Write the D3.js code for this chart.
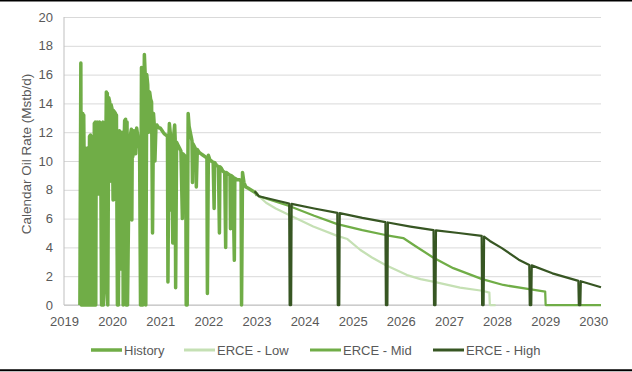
<!DOCTYPE html>
<html>
<head>
<meta charset="utf-8">
<script src="https://cdn.jsdelivr.net/npm/d3@7"></script>
<style>
body { margin: 0; background: #fff; }
svg { display: block; font-family: "Liberation Sans", Arial, sans-serif; }
.grid line { stroke: #d9d9d9; stroke-width: 1; }
.axis text { fill: #595959; font-size: 13px; }
.legend text { fill: #595959; font-size: 13px; }
.series { fill: none; stroke-linejoin: round; stroke-linecap: butt; }
</style>
</head>
<body>
<div id="chart"></div>
<script>
var yearTicks = [2019, 2020, 2021, 2022, 2023, 2024, 2025, 2026, 2027, 2028, 2029, 2030];
var rateTicks = [0, 2, 4, 6, 8, 10, 12, 14, 16, 18, 20];

var seriesNames = ["History", "ERCE - Low", "ERCE - Mid", "ERCE - High"];
var seriesColors = ["#70ad47", "#c5e0b4", "#70ad47", "#375623"];

// [annee decimale, debit Mstb/d]
var historyRate = [
  [2019.33, 0], [2019.35, 16.8], [2019.36, 0], [2019.37, 13.3], [2019.38, 0], [2019.39, 13.3], [2019.40, 0.3], [2019.41, 13.2],
  [2019.42, 9.5], [2019.43, 0], [2019.44, 10.9], [2019.45, 0], [2019.46, 10.7], [2019.47, 0], [2019.49, 10.9], [2019.50, 8.0],
  [2019.51, 0], [2019.53, 11.7], [2019.55, 11.8], [2019.56, 0], [2019.57, 11.6], [2019.58, 7.5], [2019.60, 11.7],
  [2019.61, 0], [2019.63, 12.6], [2019.65, 12.7], [2019.66, 0], [2019.67, 12.6], [2019.69, 12.7],
  [2019.71, 7.7], [2019.72, 12.5], [2019.74, 12.7], [2019.76, 12.6], [2019.78, 0], [2019.79, 12.6],
  [2019.81, 12.7], [2019.82, 0], [2019.84, 1.0], [2019.86, 8.2], [2019.88, 14.8], [2019.89, 9.0], [2019.90, 14.7],
  [2019.91, 0], [2019.93, 14.4], [2019.95, 14.1], [2019.96, 8.6], [2019.98, 13.9], [2020.00, 13.6],
  [2020.02, 7.3], [2020.03, 13.5], [2020.05, 13.4], [2020.07, 13.3], [2020.08, 7.3], [2020.09, 13.2],
  [2020.11, 0], [2020.13, 0], [2020.15, 12.1], [2020.17, 11.9], [2020.18, 7.3], [2020.19, 2.5],
  [2020.20, 12.0], [2020.22, 11.8], [2020.23, 0], [2020.25, 11.5], [2020.26, 12.8], [2020.28, 12.9],
  [2020.29, 0], [2020.31, 12.7], [2020.32, 0], [2020.34, 5.8], [2020.36, 9.0], [2020.38, 11.8],
  [2020.40, 12.2], [2020.41, 5.9], [2020.42, 12.0], [2020.43, 10.3], [2020.45, 12.1], [2020.47, 11.9],
  [2020.49, 10.5], [2020.51, 12.3], [2020.53, 11.8], [2020.55, 11.0], [2020.57, 11.4], [2020.59, 0],
  [2020.61, 16.5], [2020.63, 16.3], [2020.64, 0], [2020.66, 14.0], [2020.67, 17.4], [2020.69, 15.8],
  [2020.70, 0], [2020.72, 16.0], [2020.74, 15.3], [2020.76, 12.0], [2020.78, 14.8], [2020.80, 14.3],
  [2020.82, 14.1], [2020.84, 5.0], [2020.86, 13.3], [2020.88, 12.3], [2020.89, 10.0], [2020.91, 12.3],
  [2020.93, 12.5], [2020.95, 12.4], [2020.97, 12.3], [2021.00, 12.3], [2021.04, 12.1], [2021.08, 11.9],
  [2021.12, 11.8], [2021.15, 11.7], [2021.16, 1.6], [2021.18, 11.5], [2021.19, 12.6], [2021.21, 11.9],
  [2021.23, 6.6], [2021.24, 11.6], [2021.26, 4.3], [2021.27, 11.4], [2021.30, 12.5], [2021.31, 11.6],
  [2021.32, 1.2], [2021.34, 11.3], [2021.37, 11.1], [2021.40, 10.9], [2021.43, 10.7], [2021.46, 6.0],
  [2021.47, 10.5], [2021.50, 10.4], [2021.53, 10.3], [2021.54, 0], [2021.56, 0], [2021.58, 13.3],
  [2021.60, 12.4], [2021.63, 11.9], [2021.66, 11.4], [2021.67, 8.5], [2021.68, 11.2], [2021.71, 11.0],
  [2021.74, 10.8], [2021.75, 8.2], [2021.77, 10.8], [2021.81, 10.6], [2021.85, 10.5], [2021.89, 10.4],
  [2021.93, 10.3], [2021.97, 10.2], [2021.98, 0.8], [2022.00, 10.4], [2022.03, 10.1], [2022.06, 10.0],
  [2022.10, 9.9], [2022.12, 6.7], [2022.13, 9.9], [2022.17, 9.7], [2022.21, 9.6], [2022.23, 5.0],
  [2022.24, 9.6], [2022.27, 9.5], [2022.30, 9.3], [2022.34, 9.2], [2022.36, 4.0], [2022.37, 9.2],
  [2022.41, 9.1], [2022.45, 9.0], [2022.46, 5.3], [2022.47, 9.0], [2022.51, 8.9], [2022.54, 3.1],
  [2022.55, 8.8], [2022.60, 8.7], [2022.65, 8.7], [2022.68, 8.6], [2022.69, 0], [2022.71, 9.2],
  [2022.74, 8.5], [2022.78, 8.2], [2022.83, 8.1], [2022.88, 8.0], [2022.93, 7.9], [2022.98, 7.8],
  [2023.02, 7.6]
];

var ercLow = [
  [2022.96, 7.9], [2023.05, 7.55], [2023.2, 7.1], [2023.4, 6.7], [2023.68, 6.25], [2024.18, 5.45],
  [2024.68, 4.8], [2024.89, 4.58], [2025.16, 3.82], [2025.4, 3.3], [2025.68, 2.78], [2026.13, 2.08],
  [2026.41, 1.8], [2026.67, 1.62], [2027.23, 1.2], [2027.69, 0.99], [2027.84, 0.86], [2027.85, 0],
  [2027.97, 0]
];

var ercMid = [
  [2022.96, 7.9], [2023.05, 7.55], [2023.68, 6.88], [2024.2, 6.2], [2024.68, 5.62], [2025.2, 5.2],
  [2025.68, 4.86], [2026.05, 4.65], [2026.3, 4.1], [2026.67, 3.3], [2027.09, 2.56], [2027.69, 1.8],
  [2028.13, 1.39], [2028.67, 1.1], [2029.0, 0.93], [2029.01, 0], [2030.16, 0]
];

var ercHigh = [
  [2022.96, 7.9], [2023.05, 7.55], [2023.68, 7.05], [2023.69, 0], [2023.72, 0], [2023.73, 7.02],
  [2024.2, 6.7], [2024.68, 6.4], [2024.69, 0], [2024.72, 0], [2024.73, 6.38], [2025.2, 6.05],
  [2025.68, 5.75], [2025.69, 0], [2025.72, 0], [2025.73, 5.73], [2026.2, 5.45], [2026.68, 5.2],
  [2026.69, 0], [2026.72, 0], [2026.73, 5.18], [2027.2, 5.0], [2027.68, 4.8], [2027.69, 0],
  [2027.72, 0], [2027.73, 4.75], [2027.85, 4.45], [2028.1, 3.95], [2028.45, 3.15], [2028.67, 2.78],
  [2028.68, 0], [2028.71, 0], [2028.72, 2.75], [2029.15, 2.2], [2029.69, 1.67], [2029.70, 0],
  [2029.73, 0], [2029.74, 1.65], [2030.16, 1.23]
];

var seriesData = [historyRate, ercLow, ercMid, ercHigh];
var seriesWidths = [3.5, 2.25, 2.25, 2.25];

var width = 632, height = 372;
var plotLeft = 64, plotRight = 601, plotTop = 17, plotBottom = 305;

var x = d3.scaleLinear().domain([2019, 2030.16]).range([plotLeft, plotRight]);
var y = d3.scaleLinear().domain([0, 20]).range([plotBottom, plotTop]);

var svg = d3.select("#chart").append("svg")
  .attr("width", width)
  .attr("height", height);

// cadre haut / bas
svg.append("line").attr("x1", 0).attr("x2", width).attr("y1", 0.75).attr("y2", 0.75)
  .attr("stroke", "#000").attr("stroke-width", 1.5);
svg.append("line").attr("x1", 0).attr("x2", width).attr("y1", 370.3).attr("y2", 370.3)
  .attr("stroke", "#000").attr("stroke-width", 2);

// grille horizontale
svg.append("g")
  .attr("class", "grid")
  .attr("transform", "translate(" + plotLeft + ",0)")
  .call(d3.axisLeft(y).tickValues(rateTicks).tickSize(-(plotRight - plotLeft)).tickFormat(""))
  .call(function(g){ g.select(".domain").remove(); });

// axe vertical
svg.append("line")
  .attr("x1", plotLeft).attr("x2", plotLeft)
  .attr("y1", plotTop).attr("y2", plotBottom)
  .attr("stroke", "#bfbfbf").attr("stroke-width", 1);

// axe horizontal
svg.append("line")
  .attr("x1", plotLeft).attr("x2", plotRight)
  .attr("y1", plotBottom).attr("y2", plotBottom)
  .attr("stroke", "#bfbfbf").attr("stroke-width", 1);

svg.append("g")
  .attr("class", "axis")
  .attr("transform", "translate(" + plotLeft + ",0)")
  .call(d3.axisLeft(y).tickValues(rateTicks).tickSize(0).tickPadding(11).tickFormat(d3.format("d")))
  .call(function(g){ g.select(".domain").remove(); });

svg.append("g")
  .attr("class", "axis")
  .attr("transform", "translate(0," + plotBottom + ")")
  .call(d3.axisBottom(x).tickValues(yearTicks).tickSize(0).tickPadding(12).tickFormat(d3.format("d")))
  .call(function(g){ g.select(".domain").remove(); });

svg.selectAll(".axis").attr("font-family", null).attr("font-size", null);

svg.append("text")
  .attr("transform", "translate(31,154) rotate(-90)")
  .attr("text-anchor", "middle")
  .attr("fill", "#595959")
  .attr("font-size", "13.5px")
  .text("Calendar Oil Rate (Mstb/d)");

var line = d3.line()
  .x(function(d){ return x(d[0]); })
  .y(function(d){ return y(d[1]); });

svg.selectAll("path.series")
  .data(seriesData)
  .enter().append("path")
  .attr("class", "series")
  .attr("stroke", function(d, i){ return seriesColors[i]; })
  .attr("stroke-width", function(d, i){ return seriesWidths[i]; })
  .attr("d", line);

// legende
var legendX = [91, 184, 310, 433];
var legend = svg.append("g").attr("class", "legend")
  .selectAll("g")
  .data(seriesNames)
  .enter().append("g")
  .attr("transform", function(d, i){ return "translate(" + legendX[i] + ",350)"; });

legend.append("line")
  .attr("x1", 0).attr("x2", 31)
  .attr("stroke", function(d, i){ return seriesColors[i]; })
  .attr("stroke-width", function(d, i){ return i == 0 ? 3.5 : 3; });

legend.append("text")
  .attr("x", 33)
  .attr("y", 5)
  .text(function(d){ return d; });
</script>
</body>
</html>
